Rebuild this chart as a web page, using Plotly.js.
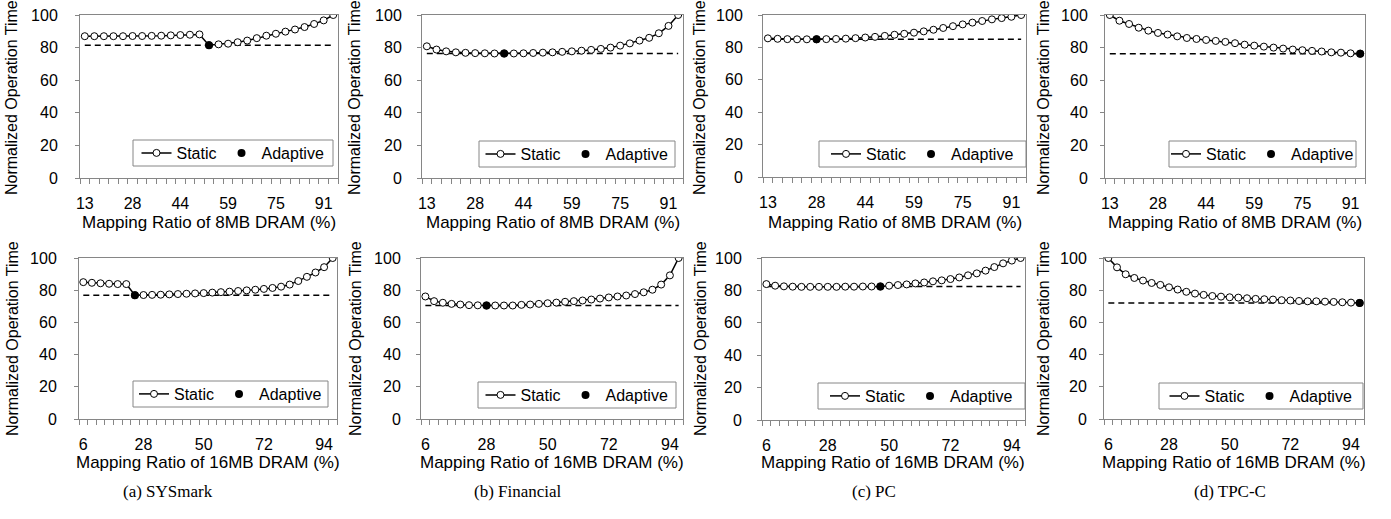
<!DOCTYPE html>
<html>
<head>
<meta charset="utf-8">
<script src="https://cdn.plot.ly/plotly-3.0.1.min.js"></script>
<style>html,body{margin:0;padding:0;background:#fff;}#chart{width:1391px;height:519px;}</style>
</head>
<body>
<div id="chart"></div>
<script>
// ---------- data ----------
const ratio8MB = [12.5, 15.625, 18.75, 21.875, 25, 28.125, 31.25, 34.375, 37.5, 40.625, 43.75, 46.875, 50, 53.125, 56.25, 59.375, 62.5, 65.625, 68.75, 71.875, 75, 78.125, 81.25, 84.375, 87.5, 90.625, 93.75];
const ratio16MB = [6.25, 9.375, 12.5, 15.625, 18.75, 21.875, 25, 28.125, 31.25, 34.375, 37.5, 40.625, 43.75, 46.875, 50, 53.125, 56.25, 59.375, 62.5, 65.625, 68.75, 71.875, 75, 78.125, 81.25, 84.375, 87.5, 90.625, 93.75, 96.875];
const ticks8MB = [12.5, 28.125, 43.75, 59.375, 75, 90.625];
const tickText8MB = ['13', '28', '44', '59', '75', '91'];
const ticks16MB = [6.25, 28.125, 50, 71.875, 93.75];
const tickText16MB = ['6', '28', '50', '72', '94'];

const sysmark8Static = [87.0, 87.0, 87.0, 87.0, 87.0, 87.1, 87.1, 87.2, 87.3, 87.5, 87.7, 87.9, 88.1, 81.5, 82.0, 82.4, 83.3, 84.3, 85.8, 87.3, 88.5, 89.8, 91.1, 92.6, 94.5, 96.7, 100];
const financial8Static = [80.8, 78.8, 77.7, 77.1, 76.8, 76.6, 76.5, 76.4, 76.4, 76.4, 76.5, 76.7, 76.9, 77.1, 77.4, 77.7, 78.1, 78.6, 79.2, 80.0, 81.2, 82.6, 84.3, 86.0, 88.8, 93.3, 100];
const pc8Static = [85.6, 85.3, 85.1, 85.0, 85.0, 85.0, 85.1, 85.2, 85.4, 85.7, 86.1, 86.5, 87.1, 87.8, 88.4, 89.1, 89.9, 90.9, 92.0, 93.1, 94.2, 95.3, 96.3, 97.3, 98.1, 98.9, 100];
const tpcc8Static = [100, 96.5, 94.5, 92.2, 90.4, 89.0, 88.0, 86.9, 85.9, 85.3, 84.7, 84.1, 83.5, 82.7, 81.8, 81.2, 80.6, 80.0, 79.4, 78.8, 78.4, 78.0, 77.6, 77.1, 76.9, 76.5, 76.3];

const sysmark16Static = [85.0, 84.6, 84.3, 84.0, 83.8, 83.8, 76.9, 77.0, 77.1, 77.2, 77.4, 77.6, 77.8, 78.0, 78.2, 78.5, 78.8, 79.1, 79.5, 79.9, 80.3, 80.8, 81.4, 82.2, 83.5, 85.7, 88.3, 91.0, 94.3, 100];
const financial16Static = [76.1, 73.2, 72.2, 71.5, 71.1, 70.7, 70.6, 70.5, 70.5, 70.5, 70.5, 70.9, 71.1, 71.5, 71.9, 72.3, 72.8, 73.2, 73.6, 74.2, 74.8, 75.5, 76.1, 76.7, 77.6, 78.7, 80.3, 83.5, 89.2, 100];
const pc16Static = [83.9, 82.9, 82.5, 82.3, 82.2, 82.2, 82.2, 82.2, 82.2, 82.3, 82.3, 82.4, 82.4, 82.4, 82.9, 83.3, 83.7, 84.3, 84.9, 85.6, 86.2, 87.0, 88.0, 89.3, 90.5, 92.2, 94.4, 96.7, 98.4, 100];
const tpcc16Static = [100, 94.2, 89.9, 87.6, 86.0, 84.5, 83.3, 81.8, 80.4, 79.0, 77.9, 77.1, 76.4, 76.0, 75.6, 75.4, 75.0, 74.6, 74.4, 74.2, 73.8, 73.6, 73.3, 73.1, 73.1, 72.9, 72.7, 72.5, 72.3, 72.1];

// adaptive result per workload (SYSmark, Financial, PC, TPC-C)
const adaptive8X = [53.125, 37.5, 28.125, 93.75];
const adaptive8Y = [81.5, 76.4, 85.0, 76.3];
const adaptive16X = [25, 28.125, 46.875, 96.875];
const adaptive16Y = [76.9, 70.5, 82.4, 72.1];

const captions = ['(a) SYSmark', '(b) Financial', '(c) PC', '(d) TPC-C'];
const xTitle8 = 'Mapping Ratio of 8MB DRAM (%)';
const xTitle16 = 'Mapping Ratio of 16MB DRAM (%)';
const yTitle = 'Normalized Operation Time';

// ---------- layout geometry (pixels) ----------
const W = 1391, H = 519;
const boxes = [
  [80, 338, 15, 178], [422, 683, 15, 178], [763, 1026, 15, 177], [1105, 1365, 15, 178],
  [79, 337, 258, 419], [421, 683, 258, 419], [762, 1025, 258, 420], [1104, 1364, 258, 419]
];
// legend frame [left, right, top, bottom] in px
const legendBox = [
  [133, 333, 140, 166], [479, 675, 141, 167], [819, 1026, 141, 167], [1169, 1356, 141, 167],
  [133, 328, 381, 407], [478, 676, 382, 408], [818, 1025, 383, 409], [1159, 1363, 383, 409]
];
const yLabelStandoff = [14, 12, 12, 9, 14, 12, 12, 9];
const yTitleX = [12, 355, 700, 1044, 12, 355, 700, 1043];
const yTitleY = [98, 98, 98, 98, 339, 339, 339, 339];
const xTitleY = [222, 222, 222, 222, 462, 462, 462, 462];
const captionX = [168, 518, 874, 1230];
const captionY = 491;

const panels = [
  {x: ratio8MB, y: sysmark8Static, ax: adaptive8X[0], ay: adaptive8Y[0], row: 8},
  {x: ratio8MB, y: financial8Static, ax: adaptive8X[1], ay: adaptive8Y[1], row: 8},
  {x: ratio8MB, y: pc8Static, ax: adaptive8X[2], ay: adaptive8Y[2], row: 8},
  {x: ratio8MB, y: tpcc8Static, ax: adaptive8X[3], ay: adaptive8Y[3], row: 8},
  {x: ratio16MB, y: sysmark16Static, ax: adaptive16X[0], ay: adaptive16Y[0], row: 16},
  {x: ratio16MB, y: financial16Static, ax: adaptive16X[1], ay: adaptive16Y[1], row: 16},
  {x: ratio16MB, y: pc16Static, ax: adaptive16X[2], ay: adaptive16Y[2], row: 16},
  {x: ratio16MB, y: tpcc16Static, ax: adaptive16X[3], ay: adaptive16Y[3], row: 16}
];

const FONT = 'Liberation Sans, Arial, sans-serif';
const GRAY = '#868686';
const traces = [];
const layout = {
  width: W, height: H,
  margin: {l: 0, r: 0, t: 0, b: 0, autoexpand: false},
  paper_bgcolor: '#fff', plot_bgcolor: '#fff',
  font: {family: FONT, size: 16, color: '#000'},
  showlegend: true,
  annotations: [],
  shapes: []
};

panels.forEach((p, i) => {
  const n = i + 1;
  const sfx = n === 1 ? '' : String(n);
  const xa = 'x' + sfx, ya = 'y' + sfx;
  const lg = 'legend' + sfx;
  const step = p.x[1] - p.x[0];
  const first = p.x[0], last = p.x[p.x.length - 1];
  // dashed adaptive reference line
  traces.push({
    x: [first, last], y: [p.ay, p.ay], xaxis: xa, yaxis: ya,
    mode: 'lines', line: {color: '#000', width: 1.5, dash: '6px,4px'},
    showlegend: false, hoverinfo: 'skip', legend: lg
  });
  traces.push({
    x: p.x, y: p.y, xaxis: xa, yaxis: ya, name: 'Static', legend: lg,
    mode: 'lines+markers',
    line: {color: '#000', width: 1.5},
    marker: {symbol: 'circle', size: 7, color: '#fff', line: {color: '#000', width: 1}}
  });
  traces.push({
    x: [p.ax], y: [p.ay], xaxis: xa, yaxis: ya, name: 'Adaptive', legend: lg,
    mode: 'markers',
    marker: {symbol: 'circle', size: 8, color: '#000', line: {color: '#000', width: 0}}
  });
  const b = boxes[i];
  layout['xaxis' + sfx] = {
    domain: [b[0] / W, b[1] / W], anchor: ya,
    range: [first - step / 2, last + step / 2],
    tickmode: 'array',
    tickvals: p.row === 8 ? ticks8MB : ticks16MB,
    ticktext: p.row === 8 ? tickText8MB : tickText16MB,
    ticks: '', ticklabelstandoff: 11,
    minor: {tickmode: 'linear', tick0: first - step / 2, dtick: step, ticks: 'outside', ticklen: 5, tickcolor: GRAY, tickwidth: 1, showgrid: false},
    showline: true, mirror: true, linecolor: GRAY, linewidth: 1,
    showgrid: false, zeroline: false, automargin: false,
    tickfont: {family: FONT, size: 16, color: '#000'}
  };
  layout['yaxis' + sfx] = {
    domain: [1 - b[3] / H, 1 - b[2] / H], anchor: xa,
    range: [0, 100], tickmode: 'linear', tick0: 0, dtick: 20,
    ticks: 'outside', ticklen: 4, tickcolor: GRAY, tickwidth: 1,
    ticklabelstandoff: yLabelStandoff[i],
    showline: true, mirror: true, linecolor: GRAY, linewidth: 1,
    showgrid: false, zeroline: false, automargin: false,
    tickfont: {family: FONT, size: 16, color: '#000'}
  };
  // legend frame drawn as a shape, legend entries centred inside it
  const lb = legendBox[i];
  layout.shapes.push({
    type: 'rect', xref: 'paper', yref: 'paper', layer: 'above',
    x0: lb[0] / W, x1: lb[1] / W, y0: 1 - lb[3] / H, y1: 1 - lb[2] / H,
    fillcolor: '#fff', line: {color: GRAY, width: 1}
  });
  layout[lg] = {
    x: (lb[0] + lb[1]) / 2 / W, xanchor: 'center',
    y: 1 - (lb[2] + lb[3]) / 2 / H, yanchor: 'middle',
    orientation: 'h', bgcolor: 'rgba(0,0,0,0)', borderwidth: 0,
    font: {family: FONT, size: 16, color: '#000'}, itemwidth: 30
  };
  // axis titles
  layout.annotations.push({
    text: p.row === 8 ? xTitle8 : xTitle16, xref: 'paper', yref: 'paper',
    x: (b[0] + b[1]) / 2 / W, y: 1 - xTitleY[i] / H, xanchor: 'center', yanchor: 'middle',
    showarrow: false, font: {family: FONT, size: 17, color: '#000'}
  });
  layout.annotations.push({
    text: yTitle, xref: 'paper', yref: 'paper', textangle: -90,
    x: yTitleX[i] / W, y: 1 - yTitleY[i] / H, xanchor: 'center', yanchor: 'middle',
    showarrow: false, font: {family: FONT, size: 16, color: '#000'}
  });
});

captions.forEach((c, i) => {
  layout.annotations.push({
    text: c, xref: 'paper', yref: 'paper', x: captionX[i] / W, y: 1 - captionY / H,
    xanchor: 'center', yanchor: 'middle', showarrow: false,
    font: {family: 'Liberation Serif, Times New Roman, serif', size: 17, color: '#000'}
  });
});

Plotly.newPlot('chart', traces, layout, {displayModeBar: false, staticPlot: true});
</script>
</body>
</html>
